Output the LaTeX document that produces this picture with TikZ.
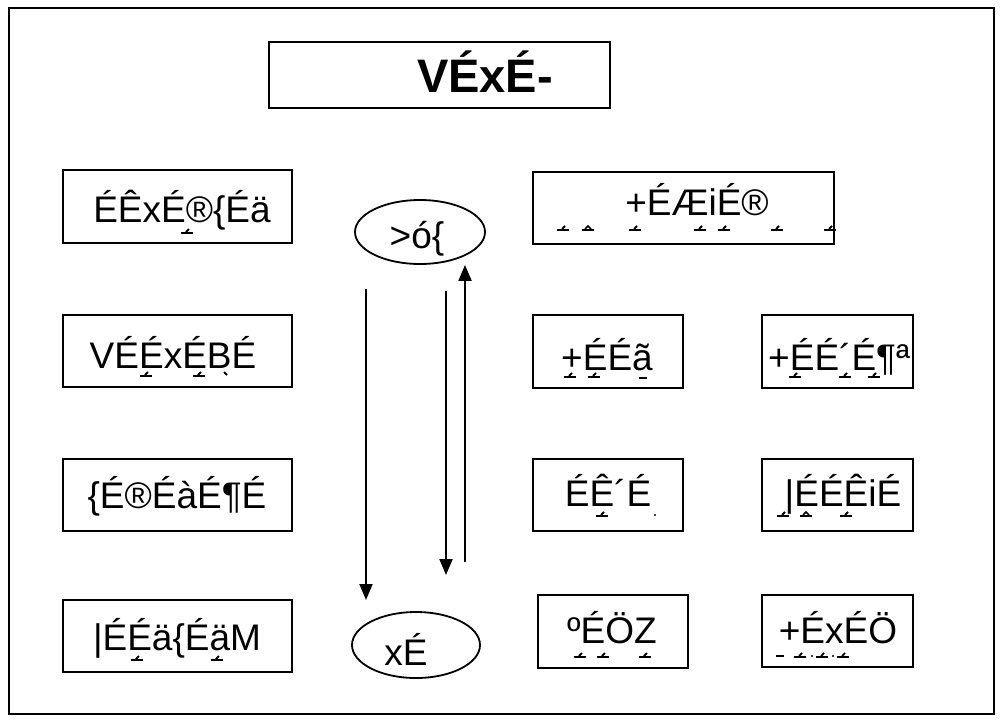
\documentclass[tikz,border=0pt]{standalone}
\usepackage{fontspec}
\setmainfont{Liberation Sans}
\usetikzlibrary{arrows.meta,shapes.geometric}
\tikzset{
  box/.style={draw, line width=2pt, inner sep=0pt},
  oval/.style={draw, ellipse, line width=1.8pt, inner sep=0pt, minimum width=130pt, minimum height=64pt},
  lbl/.style={anchor=base, inner sep=0pt, font=\fontsize{37}{44}\selectfont},
  ttl/.style={anchor=base, inner sep=0pt, font=\fontsize{47}{56}\selectfont\bfseries},
  arr/.style={line width=2pt, -{Triangle[length=16pt,width=13pt]}},
  acm/.pic={\draw[line width=1.2pt] (-6,0)--(6,0); \draw[line width=1.8pt] (-1,-1)--(2,-4);},
  cir/.pic={\draw[line width=1.2pt] (-6,0)--(6,0); \draw[line width=1.5pt] (-3,-1)--(0,-4)--(3,-1);},
  grv/.pic={\draw[line width=1.8pt] (-2,-4)--(1,-1);},
  dsh/.pic={\draw[line width=1.8pt] (-4,-1)--(4,-1);},
  dt/.pic={\fill (0,-1) circle (1.1pt);}
}
\begin{document}
\begin{tikzpicture}[x=1pt,y=-1pt]
\useasboundingbox (0,0) rectangle (1003,723);
\draw[line width=1.8pt] (9,8) rectangle (994,714);
% title
\node[box, minimum width=341pt, minimum height=66pt] (tb) at (439.5,75) {};
\node[ttl] (tt) at (485,92) {VÉxÉ-};
% left column
\node[box, minimum width=229pt, minimum height=73pt] (l1) at (177.5,206.5) {};
\node[lbl] (l1t) at (182,222) {ÉÊxÉ®\{Éä};
\node[box, minimum width=229pt, minimum height=72pt] (l2) at (177.5,351) {};
\node[lbl] (l2t) at (173,368) {VÉÉxÉBÉ};
\node[box, minimum width=229pt, minimum height=72pt] (l3) at (177.5,495) {};
\node[lbl] (l3t) at (177,508) {\{É®ÉàÉ¶É};
\node[box, minimum width=229pt, minimum height=72pt] (l4) at (177.5,636) {};
\node[lbl] (l4t) at (177,650) {|ÉÉä\{ÉäM};
% ellipses
\node[oval] (e1) at (420,232) {};
\node[lbl] (e1t) at (417,248) {>ó\{};
\node[oval, minimum width=128pt, minimum height=66pt] (e2) at (416,645) {};
\node[lbl] (e2t) at (406,665) {xÉ};
% arrows
\coordinate (a1s) at (366,289);
\coordinate (a1e) at (366,600);
\coordinate (a2s) at (446,291);
\coordinate (a2e) at (446,575);
\coordinate (a3s) at (465,562);
\draw[arr] (a1s) -- (a1e);
\draw[arr] (a2s) -- (a2e);
\draw[arr] (a3s) -- (a3s |- e1.south);
% right column
\node[box, minimum width=301pt, minimum height=72pt] (r1) at (683.5,208) {};
\node[lbl] (r1t) at (697,215) {+ÉÆiÉ®};
\node[box, minimum width=150pt, minimum height=73pt] (r2) at (608,351.5) {};
\node[lbl] (r2t) at (607,370) {+ÉÉã};
\node[box, minimum width=151pt, minimum height=73pt] (r3) at (837.5,351.5) {};
\node[lbl] (r3t) at (839,370) {+ÉÉ´É¶ª};
\node[box, minimum width=150pt, minimum height=72pt] (r4) at (608,495) {};
\node[lbl] (r4t) at (608,506) {ÉÊ´É};
\node[box, minimum width=151pt, minimum height=72pt] (r5) at (837.5,495) {};
\node[lbl] (r5t) at (843,506) {|ÉÉÊiÉ};
\node[box, minimum width=150pt, minimum height=73pt] (r6) at (613,631.5) {};
\node[lbl] (r6t) at (612,643) {ºÉÖZ};
\node[box, minimum width=151pt, minimum height=72pt] (r7) at (837.5,631) {};
\node[lbl] (r7t) at (838,643) {+ÉxÉÖ};
% marks below letters
\pic at (187,233) {acm};
\pic at (146,376) {acm};
\pic at (199,376) {acm};
\pic at (226,376) {grv};
\pic at (137,660) {acm};
\pic at (217,660) {acm};
\pic at (563,230) {acm};
\pic at (588,230) {cir};
\pic at (635,230) {acm};
\pic at (700,230) {acm};
\pic at (724,230) {acm};
\pic at (777,230) {acm};
\pic at (830,230) {acm};
\pic at (570,377) {acm};
\pic at (594,377) {acm};
\pic at (643,379) {dsh};
\pic at (795,377) {acm};
\pic at (845,377) {acm};
\pic at (874,377) {acm};
\pic at (602,516) {acm};
\pic at (655,516) {dt};
\pic at (783,516) {acm};
\pic at (806,516) {cir};
\pic at (846,516) {acm};
\pic at (580,657) {acm};
\pic at (603,657) {acm};
\pic at (645,657) {acm};
\pic at (780,657) {dsh};
\pic at (800,657) {acm};
\pic at (812,657) {dt};
\pic at (822,657) {acm};
\pic at (833,657) {dt};
\pic at (843,657) {acm};
\end{tikzpicture}
\end{document}
